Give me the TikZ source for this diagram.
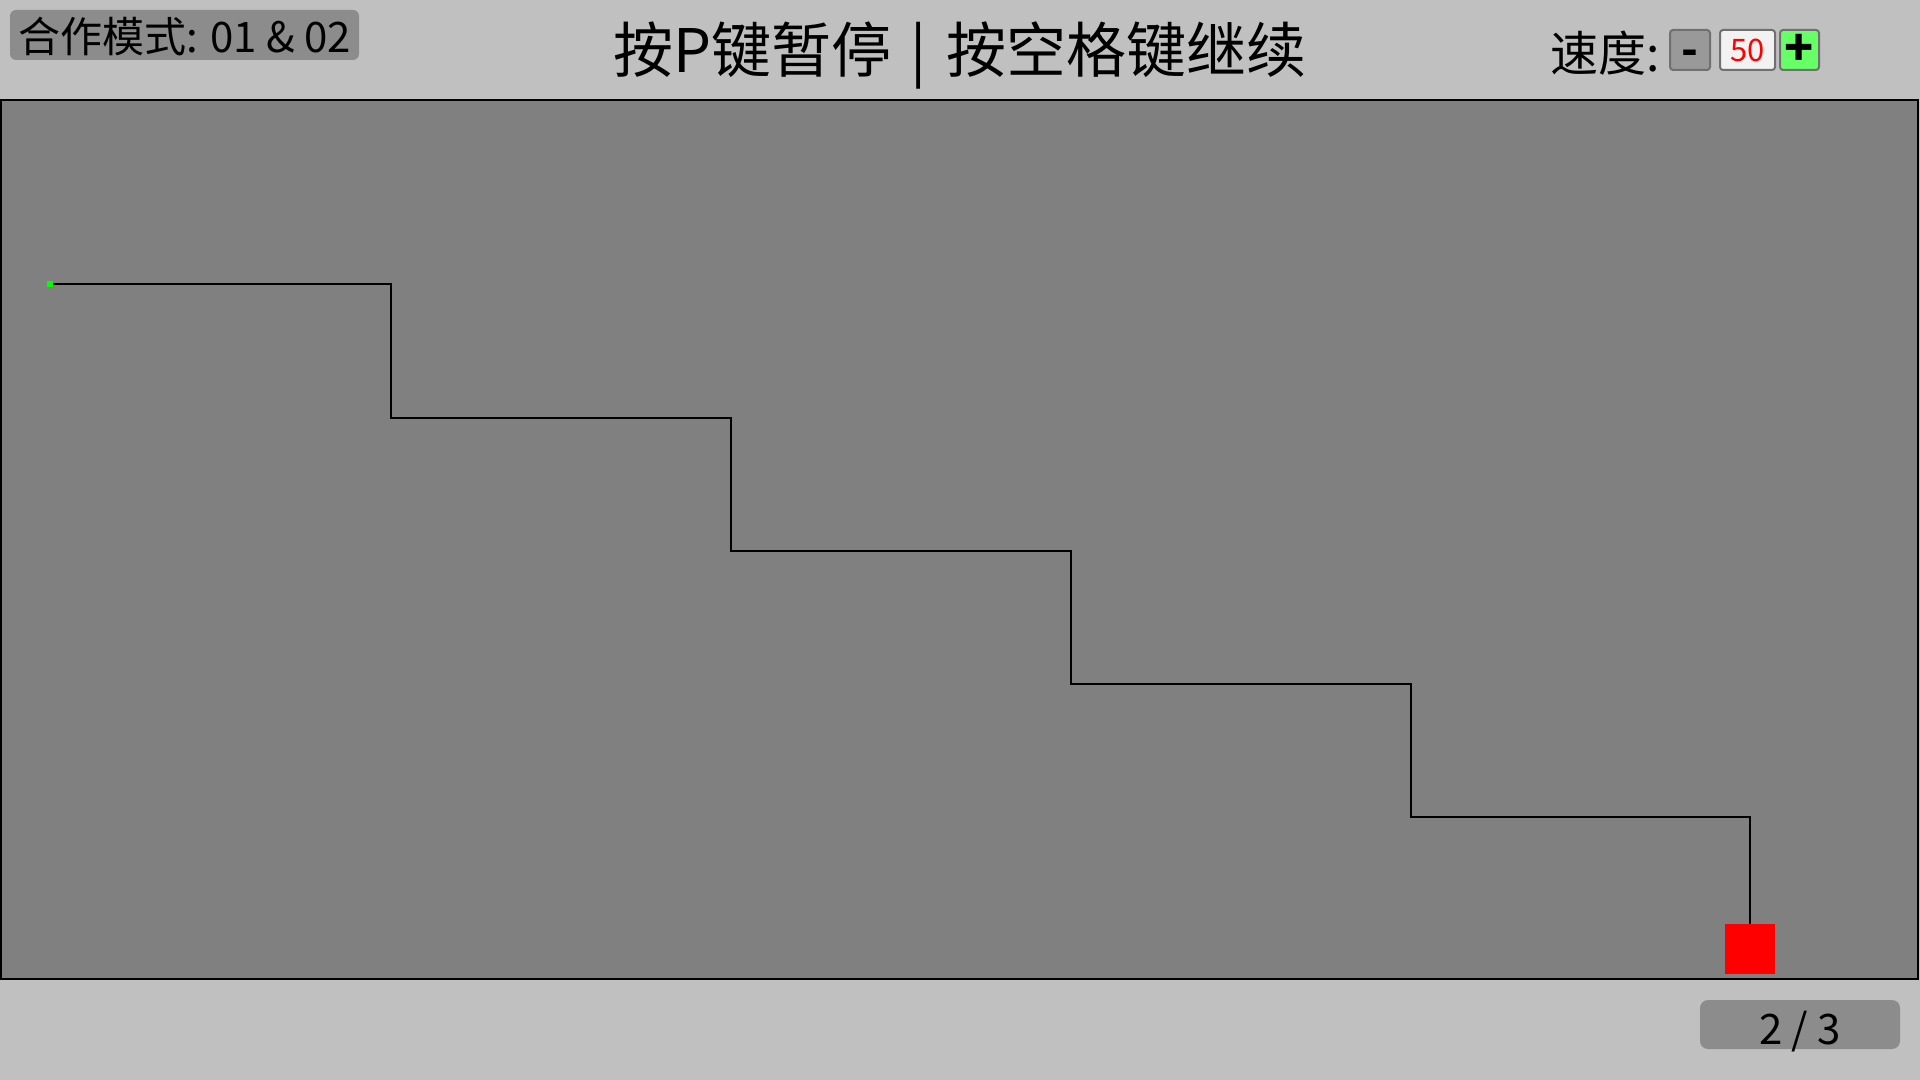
\documentclass[tikz,border=0pt]{standalone}
\usepackage{fontspec}
\setmainfont{Noto Sans CJK SC}
\usetikzlibrary{positioning}

\begin{document}
\begin{tikzpicture}[x=0.5pt,y=0.5pt,yscale=-1,xscale=1,
  badge/.style={fill={rgb, 255:red, 140; green, 140; blue, 140 },rounded corners=3pt,inner sep=0pt,minimum height=25pt},
  btn/.style={draw={rgb, 255:red, 112; green, 112; blue, 112 },line width=1pt,rounded corners=1.5pt,minimum width=20pt,minimum height=20pt,inner sep=0pt},
  walk/.style={line width=1pt,line join=miter}]
%set diagram left start at 0, and has height of 1080
\path [use as bounding box, fill={rgb, 255:red, 192; green, 192; blue, 192 }] (0,0) rectangle (1920,1080);

%Shape: Rectangle [id:field]
\draw [fill={rgb, 255:red, 128; green, 128; blue, 128 }, line width=1pt] (1,100) rectangle (1918,979);

% Text Node
\node (mode) [badge, minimum width=174.5pt, text height=21pt, text depth=3pt, font=\fontsize{21}{25}\selectfont] at (184.5,35) {合作模式: 01 \& 02};
% Text Node
\node (title) [font=\fontsize{30}{36}\selectfont] at (960,55) {按P键暂停\hspace{3pt} | \hspace{3pt}按空格键继续};
% Text Node
\node (speedlbl) [anchor=east, inner sep=0pt, font=\fontsize{24}{28}\selectfont] at (1660,53) {速度:};

%Shape: Buttons
\node (minus) [btn, fill={rgb, 255:red, 153; green, 153; blue, 153 }, text height=16pt, text depth=0pt, font=\bfseries\fontsize{22}{26}\selectfont] at (1690,50) {-};
\node (speed) [btn, fill={rgb, 255:red, 242; green, 242; blue, 242 }, minimum width=27.5pt, right=4pt of minus, text=red, font=\fontsize{15.5}{18}\selectfont] {50};
\node (plus) [btn, fill={rgb, 255:red, 102; green, 255; blue, 102 }, minimum width=19.5pt, right=1.5pt of speed, font=\bfseries\fontsize{24}{28}\selectfont] {+};

%Shape: Start and goal
\node (start) [fill={rgb, 255:red, 0; green, 255; blue, 0 }, minimum size=3pt, inner sep=0pt] at (50,284.5) {};
\node (goal) [fill=red, minimum size=25pt, inner sep=0pt] at (1750,949) {};

%Straight Lines [id:walk]
\coordinate (c1) at (390.5,284.5);
\coordinate (c2) at (390.5,417.5);
\coordinate (c3) at (731,417.5);
\coordinate (c4) at (731,551);
\coordinate (c5) at (1071,551);
\coordinate (c6) at (1071,684);
\coordinate (c7) at (1411,684);
\coordinate (c8) at (1411,817);
\coordinate (c9) at (1750,817);
\draw [walk] (start.east) -- (c1) -- (c2) -- (c3) -- (c4) -- (c5) -- (c6) -- (c7) -- (c8) -- (c9) -- (goal.north);

% Text Node
\node (level) [badge, minimum width=100pt, minimum height=24.5pt, rounded corners=4pt, text height=20pt, text depth=0pt, font=\fontsize{21}{25}\selectfont] at (1800,1024.5) {2 / 3};

\end{tikzpicture}
\end{document}
